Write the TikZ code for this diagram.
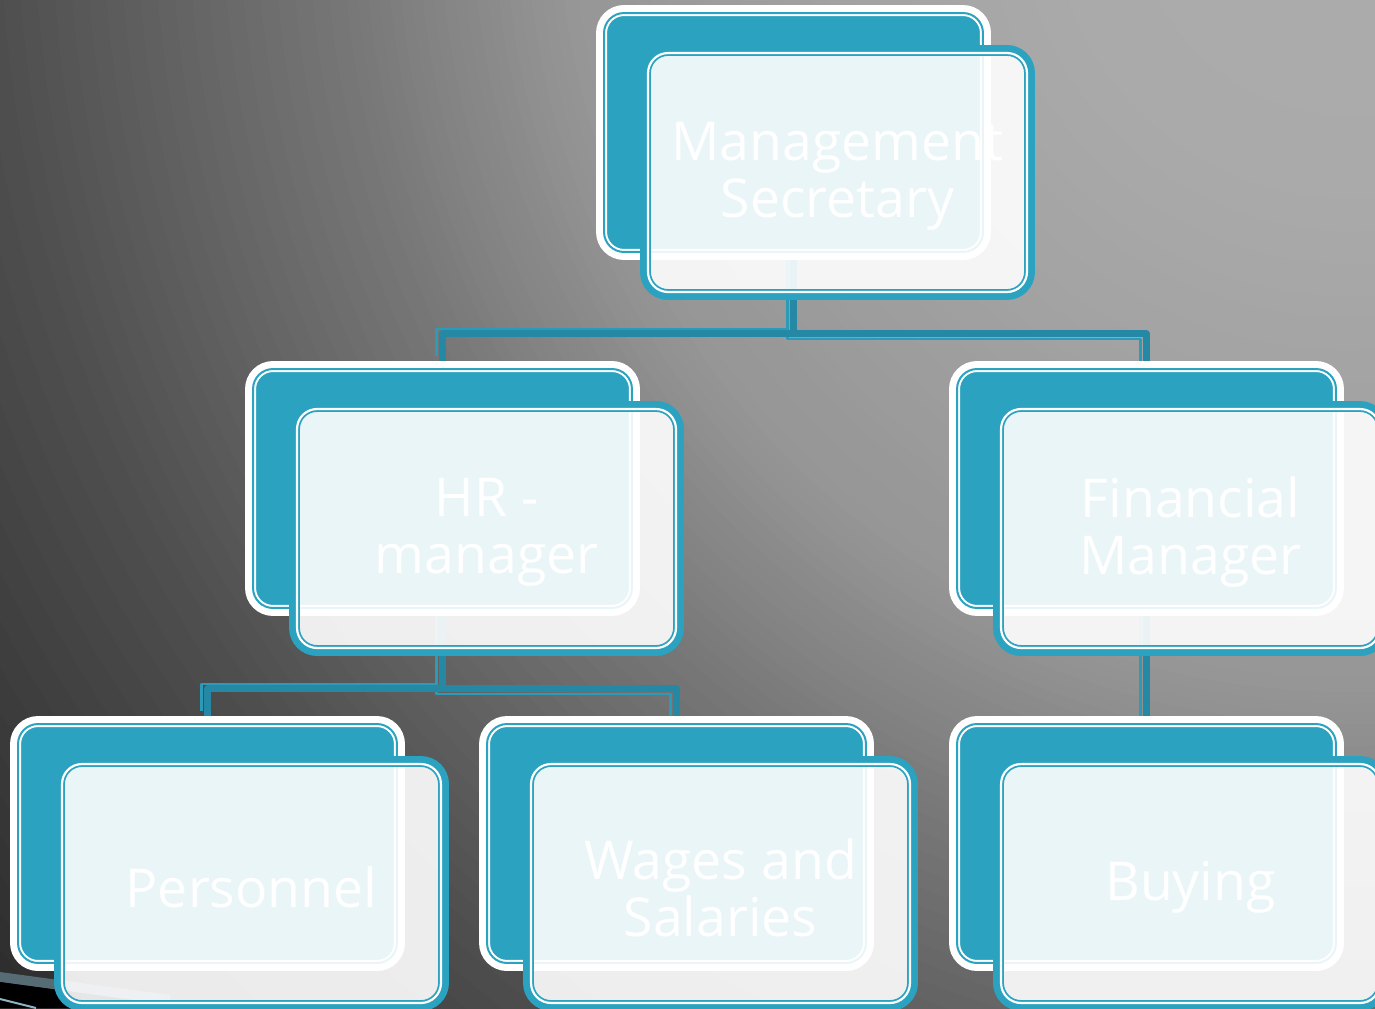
\documentclass[tikz,border=0pt]{standalone}
\usepackage{fontspec}
\setmainfont{Open Sans}
\usepackage{tikz}

\definecolor{boxteal}{HTML}{2AA2C0}
\definecolor{linkteal}{HTML}{2589A6}
\definecolor{linkthin}{HTML}{2A9CBA}
\definecolor{bandgray}{HTML}{566B74}
\definecolor{bandline}{HTML}{8FB3C4}
\definecolor{bgA}{HTML}{ACACAC}
\definecolor{bgB}{HTML}{AAAAAA}
\definecolor{bgC}{HTML}{A3A3A3}
\definecolor{bgD}{HTML}{969696}
\definecolor{bgE}{HTML}{787878}
\definecolor{bgF}{HTML}{505050}
\definecolor{bgG}{HTML}{282828}
\pgfdeclarelayer{backdrop}
\pgfdeclarelayer{links}
\pgfsetlayers{backdrop,links,main}

\tikzset{
    backbox/.style={rectangle, rounded corners=0.49cm, fill=boxteal, draw=white,
        line width=0.14cm, minimum width=7.76cm, minimum height=4.96cm, inner sep=0pt},
    backline/.style={rectangle, rounded corners=0.4cm, draw=white, double=boxteal,
        line width=0.04cm, double distance=0.04cm, minimum width=7.58cm,
        minimum height=4.78cm, inner sep=0pt},
    frontbox/.style={rectangle, rounded corners=0.49cm, fill=white, fill opacity=0.9,
        draw=boxteal, draw opacity=1, line width=0.14cm,
        minimum width=7.76cm, minimum height=4.96cm, inner sep=0pt},
    frontline/.style={rectangle, rounded corners=0.4cm, draw=boxteal, double=white,
        line width=0.036cm, double distance=0.044cm, minimum width=7.58cm,
        minimum height=4.78cm, inner sep=0pt},
    boxtext/.style={text=white, align=center, inner sep=0pt,
        font=\fontsize{30.5}{32.5}\selectfont},
    orglink/.style={draw=linkteal, line width=0.14cm, line join=round},
    orglinkthin/.style={draw=linkthin, line width=0.05cm, line join=round,
        transform canvas={shift={#1}}}
}

\begin{document}
\begin{tikzpicture}[x=0.02cm, y=-0.02cm]
    \useasboundingbox (0,0) rectangle (1375,1008);
    % Backdrop: rings of grey round a light spot above the top right corner
    \begin{pgfonlayer}{backdrop}
        \begin{scope}
            \clip (0,0) rectangle (1375,1008);
            \fill[bgG] (0,0) rectangle (1375,1008);
            \foreach \ra/\rb/\ca/\cb in {1800/1350/bgG/bgF, 1350/1008/bgF/bgE,
                    1008/792/bgE/bgD, 792/504/bgD/bgC, 504/288/bgC/bgB, 288/0/bgB/bgA}{
                \foreach \k in {0,...,19}{
                    \pgfmathsetmacro\r{\ra-(\ra-\rb)*\k/20}
                    \pgfmathtruncatemacro\p{100-5*\k}
                    \fill[\ca!\p!\cb] (1350,-100) circle[radius=\r*0.02cm];
                }
            }
        \end{scope}
        % Band in the lower left corner
        \fill[bandgray] (0,972) -- (170,995) -- (170,1005) -- (0,982) -- cycle;
        \fill[black] (0,982) -- (170,1005) -- (170,1008) -- (0,1008) -- cycle;
        \draw[bandline, line width=0.04cm] (0,999) -- (36,1008);
    \end{pgfonlayer}
    % Boxes: back card, front card and its text
    \foreach \boxname/\bx/\by/\txt in {
        mgmt/596/5/{Management\\Secretary},
        hr/245/361/{HR -\\manager},
        fin/949/361/{Financial\\Manager},
        pers/10/716/{Personnel},
        wages/479/716/{Wages and\\Salaries},
        buy/949/716/{Buying}}{
        \node[backbox] (\boxname-back) at (\bx+197.5,\by+127.5) {};
        \node[backline] (\boxname-bline) at (\boxname-back) {};
        \node[frontbox] (\boxname) at (\bx+241.5,\by+167.5) {};
        \node[frontline] (\boxname-fline) at (\boxname) {};
        \node[boxtext] (\boxname-text) at (\bx+241.5,\by+171.5) {\txt};
    }
    % Links
    \begin{pgfonlayer}{links}
        \draw[orglinkthin={(-6,-5)}] (mgmt-back.south) -- ++(0,74) -| (hr-back.north);
        \draw[orglinkthin={(-6,5)}] (mgmt-back.south) -- ++(0,74) -| (fin-back.north);
        \draw[orglink] (mgmt-back.south) -- ++(0,74) -| (hr-back.north);
        \draw[orglink] (mgmt-back.south) -- ++(0,74) -| (fin-back.north);
        \draw[orglinkthin={(-6,-5)}] (hr-back.south) -- ++(0,73) -| (pers-back.north);
        \draw[orglinkthin={(-6,5)}] (hr-back.south) -- ++(0,73) -| (wages-back.north);
        \draw[orglink] (hr-back.south) -- ++(0,73) -| (pers-back.north);
        \draw[orglink] (hr-back.south) -- ++(0,73) -| (wages-back.north);
        \draw[orglinkthin={(-6,0)}] (fin-back.south) -- (buy-back.north);
        \draw[orglink] (fin-back.south) -- (buy-back.north);
    \end{pgfonlayer}
\end{tikzpicture}
\end{document}
